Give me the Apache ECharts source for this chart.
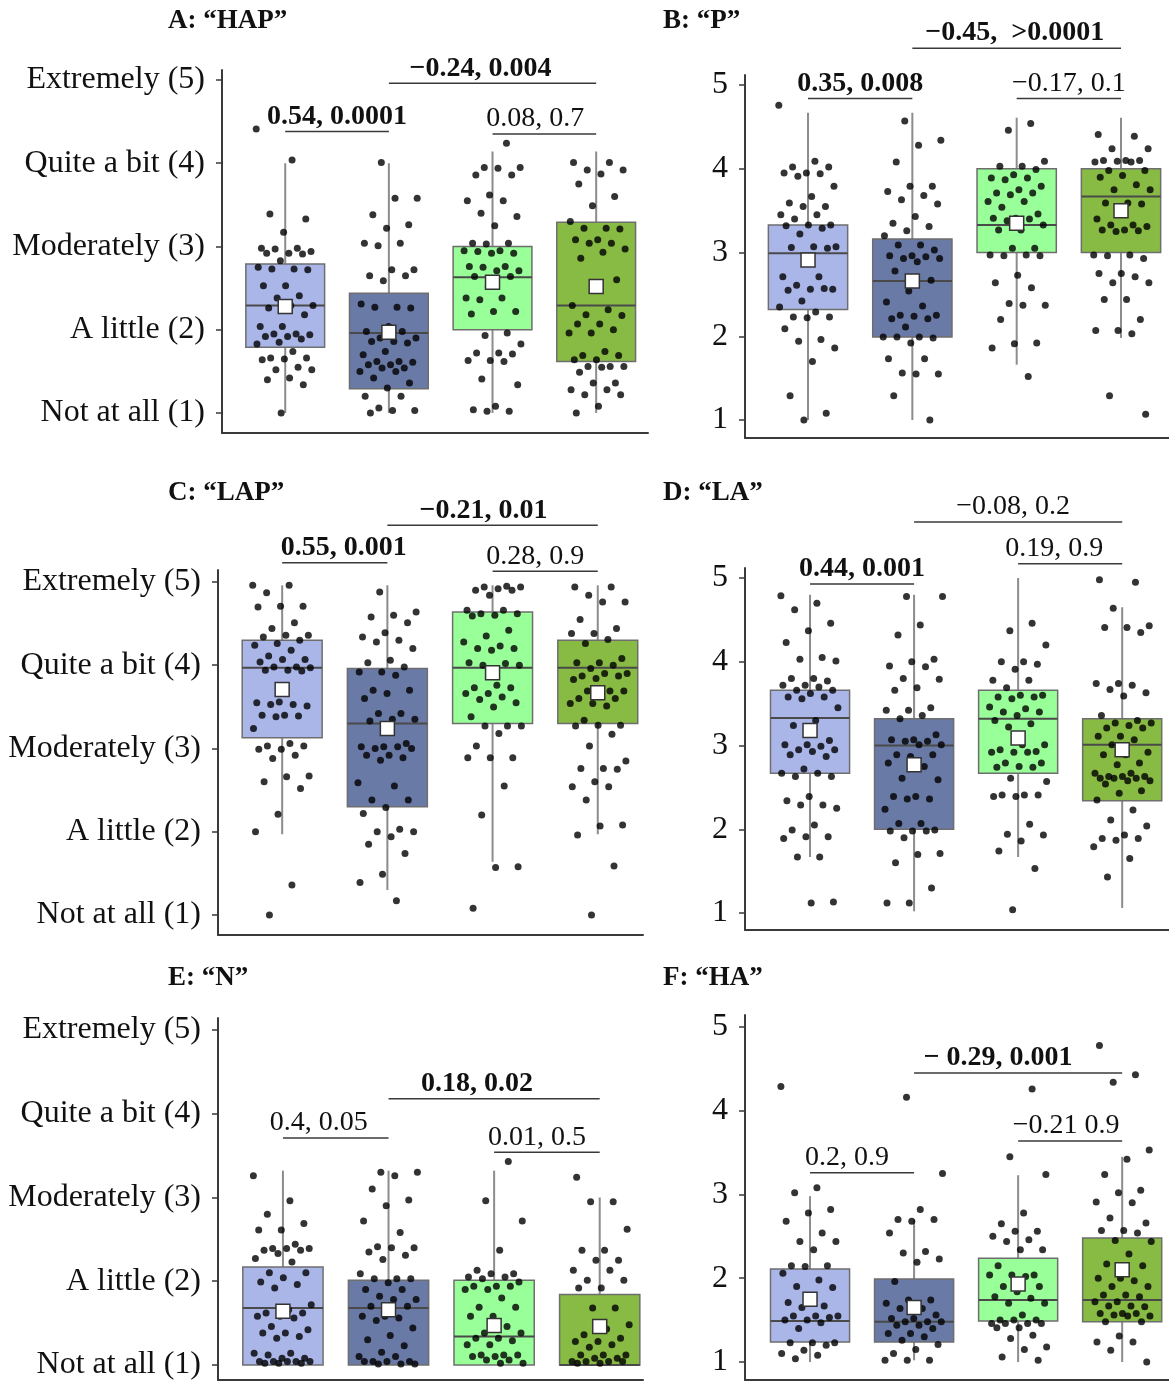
<!DOCTYPE html>
<html>
<head>
<meta charset="utf-8">
<script src="https://cdn.jsdelivr.net/npm/echarts@6/dist/echarts.min.js"></script>
<style>
  html, body { margin: 0; padding: 0; background: #ffffff; }
  #chart { width: 1169px; height: 1382px; }
</style>
</head>
<body>
<div id="chart"></div>
<script>
// ---------- Axis tick labels ----------
const levelLabels = ['Not at all (1)', 'A little (2)', 'Moderately (3)', 'Quite a bit (4)', 'Extremely (5)'];
const numericLabels = ['1', '2', '3', '4', '5'];

// ---------- Group colours (same order in every panel) ----------
const groupColors = ['#aab6e8', '#6a7aa6', '#99ff99', '#88bb44'];

// ---------- A: "HAP" ----------
// box stats per group: [lower whisker, Q1, median, Q3, upper whisker]
const hapStats = [[1.0, 1.79, 2.29, 2.79, 4.0], [1.0, 1.29, 1.96, 2.44, 4.0], [1.0, 2.0, 2.63, 3.0, 4.14], [1.0, 1.62, 2.29, 3.29, 4.14]];
const hapMeans = [2.28, 1.97, 2.57, 2.52];
const hapPoints1 = [4.41, 4.04, 3.39, 3.33, 3.17, 2.98, 2.98, 2.97, 2.94, 2.92, 2.92, 2.91, 2.83, 2.75, 2.73, 2.73, 2.72, 2.53, 2.53, 2.41, 2.38, 2.29, 2.29, 2.26, 2.18, 2.04, 2.04, 1.95, 1.95, 1.94, 1.92, 1.92, 1.89, 1.85, 1.83, 1.74, 1.66, 1.66, 1.65, 1.64, 1.55, 1.52, 1.52, 1.42, 1.40, 1.34, 1.0];
const hapPoints2 = [4.01, 3.58, 3.58, 3.38, 3.26, 3.22, 3.04, 3.04, 3.01, 2.72, 2.72, 2.65, 2.65, 2.59, 2.31, 2.27, 2.27, 2.26, 2.04, 1.98, 1.98, 1.90, 1.90, 1.86, 1.86, 1.84, 1.74, 1.70, 1.62, 1.62, 1.61, 1.58, 1.58, 1.54, 1.54, 1.50, 1.50, 1.42, 1.36, 1.30, 1.20, 1.20, 1.06, 1.03, 1.03, 1.0];
const hapPoints3 = [4.24, 3.95, 3.95, 3.94, 3.86, 3.86, 3.62, 3.55, 3.55, 3.40, 3.36, 3.25, 3.04, 3.04, 3.03, 2.95, 2.95, 2.94, 2.92, 2.92, 2.76, 2.76, 2.75, 2.71, 2.71, 2.64, 2.64, 2.52, 2.38, 2.38, 2.36, 2.22, 2.22, 2.19, 1.96, 1.93, 1.83, 1.72, 1.72, 1.71, 1.63, 1.63, 1.62, 1.41, 1.34, 1.08, 1.04, 1.02, 1.02];
const hapPoints4 = [4.01, 4.01, 3.92, 3.92, 3.87, 3.75, 3.60, 3.49, 3.30, 3.22, 3.22, 3.21, 3.08, 3.08, 3.04, 3.04, 2.97, 2.93, 2.86, 2.60, 2.51, 2.29, 2.24, 2.18, 2.17, 2.07, 2.07, 2.00, 1.96, 1.96, 1.74, 1.69, 1.69, 1.64, 1.64, 1.56, 1.56, 1.56, 1.55, 1.49, 1.36, 1.36, 1.28, 1.28, 1.22, 1.22, 1.08, 1.0];
// comparisons: [from group, to group, text, bold]
const hapTests = [[1, 2, '0.54, 0.0001', true], [2, 4, '\u22120.24, 0.004', true], [3, 4, '0.08, 0.7', false]];

// ---------- B: "P" ----------
const pStats = [[1.0, 2.32, 2.99, 3.33, 4.67], [1.0, 1.99, 2.66, 3.16, 4.67], [1.66, 3.0, 3.33, 4.0, 4.61], [1.98, 3.0, 3.67, 4.0, 4.61]];
const pMeans = [2.91, 2.66, 3.35, 3.50];
const pPoints1 = [4.76, 4.09, 4.02, 4.02, 3.95, 3.95, 3.94, 3.91, 3.79, 3.67, 3.59, 3.55, 3.55, 3.45, 3.45, 3.40, 3.33, 3.33, 3.32, 3.29, 3.22, 3.07, 3.07, 3.06, 3.05, 2.93, 2.71, 2.71, 2.61, 2.56, 2.56, 2.55, 2.57, 2.42, 2.35, 2.29, 2.23, 2.23, 2.22, 2.09, 1.96, 1.94, 1.86, 1.70, 1.29, 1.08, 1.0];
const pPoints2 = [4.57, 4.34, 4.28, 4.08, 3.79, 3.79, 3.73, 3.68, 3.63, 3.58, 3.43, 3.35, 3.31, 3.26, 3.20, 3.09, 3.09, 3.03, 2.96, 2.96, 2.95, 2.93, 2.93, 2.89, 2.78, 2.67, 2.54, 2.41, 2.36, 2.25, 2.25, 2.24, 2.21, 2.21, 2.11, 1.99, 1.99, 1.99, 1.98, 1.92, 1.73, 1.73, 1.56, 1.55, 1.55, 1.29, 1.0];
const pPoints3 = [4.54, 4.46, 4.09, 4.03, 4.03, 3.99, 3.93, 3.89, 3.89, 3.87, 3.79, 3.75, 3.71, 3.71, 3.69, 3.61, 3.61, 3.54, 3.46, 3.41, 3.41, 3.40, 3.38, 3.33, 3.27, 3.27, 3.05, 3.05, 2.97, 2.97, 2.96, 2.96, 2.73, 2.64, 2.58, 2.39, 2.37, 2.37, 2.20, 1.92, 1.91, 1.86, 1.52];
const pPoints4 = [4.41, 4.39, 4.24, 4.24, 4.10, 4.10, 4.10, 4.09, 4.08, 4.08, 3.98, 3.98, 3.92, 3.90, 3.81, 3.75, 3.75, 3.59, 3.59, 3.58, 3.47, 3.40, 3.33, 3.33, 3.31, 3.27, 3.27, 3.26, 3.25, 2.97, 2.97, 2.96, 2.93, 2.75, 2.75, 2.71, 2.64, 2.64, 2.44, 2.44, 2.20, 2.07, 2.07, 2.03, 1.29, 1.07];
const pTests = [[1, 2, '0.35, 0.008', true], [2, 4, '\u22120.45,  >0.0001', true], [3, 4, '\u22120.17, 0.1', false]];

// ---------- C: "LAP" ----------
const lapStats = [[1.97, 3.13, 3.97, 4.30, 4.96], [1.30, 2.30, 3.30, 3.96, 4.96], [1.64, 3.30, 3.97, 4.64, 4.96], [1.97, 3.30, 3.97, 4.30, 4.96]];
const lapMeans = [3.71, 3.24, 3.91, 3.67];
const lapPoints1 = [4.96, 4.96, 4.87, 4.71, 4.71, 4.70, 4.51, 4.44, 4.36, 4.36, 4.34, 4.30, 4.26, 4.24, 4.18, 4.11, 4.07, 4.07, 4.04, 3.98, 3.98, 3.97, 3.94, 3.94, 3.93, 3.56, 3.55, 3.53, 3.53, 3.51, 3.40, 3.40, 3.39, 3.38, 3.24, 3.06, 3.03, 3.03, 2.99, 2.99, 2.92, 2.88, 2.67, 2.66, 2.60, 2.52, 2.21, 2.0, 1.36, 1.0];
const lapPoints2 = [4.88, 4.64, 4.60, 4.58, 4.51, 4.39, 4.34, 4.30, 4.28, 4.20, 4.06, 4.03, 3.98, 3.92, 3.92, 3.88, 3.70, 3.70, 3.66, 3.60, 3.42, 3.42, 3.35, 3.35, 3.33, 3.06, 3.02, 3.02, 3.02, 3.00, 3.00, 2.92, 2.92, 2.89, 2.86, 2.59, 2.55, 2.38, 2.38, 2.29, 2.22, 2.03, 2.00, 2.00, 1.94, 1.85, 1.74, 1.49, 1.39, 1.17];
const lapPoints3 = [4.95, 4.94, 4.94, 4.92, 4.90, 4.90, 4.84, 4.66, 4.66, 4.62, 4.62, 4.60, 4.59, 4.42, 4.35, 4.28, 4.23, 4.20, 4.20, 4.18, 4.03, 4.02, 4.00, 4.00, 3.76, 3.73, 3.73, 3.66, 3.66, 3.62, 3.59, 3.55, 3.50, 3.38, 3.27, 3.27, 3.27, 3.18, 3.03, 2.89, 2.89, 2.89, 2.55, 2.20, 1.58, 1.57, 1.08];
const lapPoints4 = [4.94, 4.94, 4.84, 4.76, 4.76, 4.55, 4.44, 4.38, 4.38, 4.31, 4.26, 4.08, 4.03, 4.03, 4.00, 3.96, 3.90, 3.90, 3.87, 3.87, 3.84, 3.83, 3.69, 3.69, 3.69, 3.65, 3.60, 3.60, 3.54, 3.54, 3.51, 3.34, 3.28, 3.28, 3.27, 3.17, 3.03, 2.85, 2.76, 2.76, 2.75, 2.60, 2.54, 2.54, 2.38, 2.08, 2.07, 1.96, 1.59, 1.0];
const lapTests = [[1, 2, '0.55, 0.001', true], [2, 4, '\u22120.21, 0.01', true], [3, 4, '0.28, 0.9', false]];

// ---------- D: "LA" ----------
const laStats = [[1.67, 2.67, 3.33, 3.66, 4.80], [1.02, 2.0, 3.0, 3.32, 4.80], [1.67, 2.67, 3.32, 3.66, 5.0], [1.06, 2.34, 3.01, 3.32, 4.65]];
const laMeans = [3.18, 2.77, 3.09, 2.95];
const laPoints1 = [4.79, 4.70, 4.62, 4.46, 4.37, 4.23, 4.05, 4.03, 4.01, 3.80, 3.80, 3.77, 3.72, 3.72, 3.70, 3.66, 3.66, 3.62, 3.58, 3.58, 3.56, 3.45, 3.30, 3.24, 3.06, 3.01, 3.01, 2.99, 2.95, 2.95, 2.93, 2.89, 2.87, 2.72, 2.67, 2.67, 2.63, 2.63, 2.39, 2.34, 2.29, 2.29, 2.25, 2.05, 1.99, 1.91, 1.91, 1.89, 1.67, 1.67, 1.13, 1.12];
const laPoints2 = [4.78, 4.78, 4.44, 4.32, 4.03, 4.00, 3.95, 3.94, 3.80, 3.79, 3.69, 3.66, 3.45, 3.42, 3.42, 3.36, 3.32, 3.13, 3.07, 3.07, 3.05, 3.05, 3.01, 3.01, 2.89, 2.89, 2.87, 2.79, 2.75, 2.61, 2.59, 2.39, 2.39, 2.36, 2.36, 2.24, 2.07, 2.07, 1.99, 1.98, 1.98, 1.98, 1.90, 1.71, 1.70, 1.60, 1.30, 1.12, 1.12];
const laPoints3 = [4.46, 4.37, 4.20, 4.00, 4.00, 3.97, 3.91, 3.78, 3.78, 3.69, 3.60, 3.60, 3.58, 3.58, 3.56, 3.46, 3.44, 3.40, 3.40, 3.36, 3.30, 3.26, 3.22, 3.01, 3.01, 2.95, 2.93, 2.92, 2.92, 2.92, 2.79, 2.79, 2.75, 2.74, 2.74, 2.61, 2.57, 2.41, 2.41, 2.41, 2.39, 2.39, 2.06, 1.94, 1.93, 1.86, 1.74, 1.53, 1.04];
const laPoints4 = [4.98, 4.95, 4.64, 4.43, 4.41, 4.41, 4.35, 3.74, 3.74, 3.72, 3.67, 3.63, 3.59, 3.36, 3.30, 3.27, 3.27, 3.24, 3.21, 3.21, 3.11, 3.11, 3.07, 3.01, 2.92, 2.89, 2.89, 2.79, 2.77, 2.67, 2.67, 2.63, 2.63, 2.63, 2.61, 2.61, 2.61, 2.58, 2.58, 2.54, 2.46, 2.43, 2.35, 2.23, 2.11, 2.04, 1.93, 1.89, 1.89, 1.87, 1.79, 1.65, 1.43];
const laTests = [[1, 2, '0.44, 0.001', true], [2, 4, '\u22120.08, 0.2', false], [3, 4, '0.19, 0.9', false]];

// ---------- E: "N" ----------
const nStats = [[1.0, 1.0, 1.68, 2.17, 3.32], [1.0, 1.0, 1.68, 2.01, 3.32], [1.0, 1.0, 1.34, 2.01, 3.32], [1.0, 1.0, 1.0, 1.84, 3.0]];
const nMeans = [1.64, 1.66, 1.47, 1.46];
const nPoints1 = [3.26, 2.96, 2.80, 2.69, 2.61, 2.61, 2.44, 2.39, 2.39, 2.39, 2.37, 2.37, 2.33, 2.27, 2.23, 2.10, 2.10, 2.04, 1.99, 1.96, 1.92, 1.72, 1.66, 1.62, 1.62, 1.58, 1.58, 1.56, 1.46, 1.42, 1.38, 1.38, 1.34, 1.32, 1.14, 1.14, 1.12, 1.08, 1.08, 1.04, 1.04, 1.04, 1.04, 1.04, 1.02, 1.02, 1.02];
const nPoints2 = [3.30, 3.30, 3.26, 3.10, 2.97, 2.90, 2.72, 2.58, 2.41, 2.40, 2.40, 2.35, 2.31, 2.26, 2.09, 2.03, 2.03, 2.03, 1.98, 1.90, 1.90, 1.82, 1.78, 1.78, 1.70, 1.70, 1.58, 1.58, 1.56, 1.53, 1.44, 1.35, 1.30, 1.23, 1.15, 1.10, 1.10, 1.04, 1.04, 1.04, 1.04, 1.01, 1.01, 1.01];
const nPoints3 = [3.43, 2.96, 2.72, 2.37, 2.13, 2.09, 2.09, 2.05, 2.05, 2.03, 1.99, 1.94, 1.94, 1.94, 1.90, 1.90, 1.80, 1.69, 1.69, 1.58, 1.58, 1.46, 1.38, 1.38, 1.32, 1.32, 1.29, 1.24, 1.24, 1.12, 1.12, 1.12, 1.10, 1.10, 1.06, 1.06, 1.02, 1.02];
const nPoints4 = [3.24, 2.95, 2.95, 2.62, 2.37, 2.37, 2.25, 2.25, 2.13, 2.13, 2.01, 2.01, 1.92, 1.92, 1.68, 1.68, 1.48, 1.43, 1.36, 1.32, 1.28, 1.28, 1.24, 1.21, 1.12, 1.12, 1.12, 1.08, 1.08, 1.04, 1.04, 1.04, 1.04, 1.02, 1.02];
const nTests = [[1, 2, '0.4, 0.05', false], [2, 4, '0.18, 0.02', true], [3, 4, '0.01, 0.5', false]];

// ---------- F: "HA" ----------
const haStats = [[1.0, 1.24, 1.49, 2.11, 2.98], [1.02, 1.24, 1.48, 1.99, 2.70], [1.0, 1.49, 1.74, 2.24, 3.23], [1.0, 1.48, 1.74, 2.48, 3.45]];
const haMeans = [1.75, 1.65, 1.93, 2.10];
const haPoints1 = [4.29, 3.08, 3.02, 2.82, 2.78, 2.68, 2.54, 2.44, 2.44, 2.34, 2.15, 2.15, 2.14, 2.06, 1.98, 1.90, 1.89, 1.71, 1.71, 1.67, 1.65, 1.55, 1.55, 1.55, 1.53, 1.50, 1.50, 1.47, 1.40, 1.23, 1.23, 1.23, 1.20, 1.14, 1.10, 1.08, 1.04];
const haPoints2 = [4.16, 3.25, 2.82, 2.70, 2.70, 2.68, 2.54, 2.32, 2.30, 2.23, 2.19, 1.96, 1.74, 1.74, 1.70, 1.64, 1.64, 1.56, 1.52, 1.52, 1.48, 1.48, 1.48, 1.44, 1.44, 1.40, 1.34, 1.34, 1.30, 1.26, 1.21, 1.15, 1.10, 1.02, 1.02, 1.02];
const haPoints3 = [4.26, 3.45, 3.24, 2.78, 2.65, 2.56, 2.56, 2.50, 2.46, 2.44, 2.34, 2.34, 2.15, 2.04, 2.04, 2.04, 2.02, 1.90, 1.90, 1.84, 1.78, 1.76, 1.70, 1.70, 1.56, 1.50, 1.50, 1.50, 1.46, 1.46, 1.46, 1.46, 1.41, 1.41, 1.32, 1.28, 1.18, 1.15, 1.06, 1.02];
const haPoints4 = [4.78, 4.43, 4.34, 3.53, 3.42, 3.24, 3.05, 3.02, 2.91, 2.90, 2.72, 2.66, 2.57, 2.57, 2.54, 2.45, 2.44, 2.29, 2.17, 2.15, 2.00, 2.00, 1.97, 1.90, 1.90, 1.80, 1.80, 1.78, 1.72, 1.72, 1.67, 1.67, 1.66, 1.58, 1.58, 1.58, 1.56, 1.55, 1.55, 1.48, 1.48, 1.31, 1.24, 1.24, 1.14, 1.0];
const haTests = [[1, 2, '0.2, 0.9', false], [2, 4, '\u2212 0.29, 0.001', true], [3, 4, '\u22120.21 0.9', false]];

// ---------- Panel layout ----------
const SERIF = '"Liberation Serif", "Times New Roman", serif';
// bracket placement per comparison: [level on the y scale, text shift in px]
const panels = [
  { title: 'A: \u201cHAP\u201d', tLeft: 163, tTop: 3, grid: { left: 222, top: 70, width: 426, height: 363 }, y: [0.76, 5.12], x: [0.39, 4.5],
    labels: levelLabels, stats: hapStats, means: hapMeans, points: [hapPoints1, hapPoints2, hapPoints3, hapPoints4], tests: hapTests,
    brackets: [[4.38, 0], [4.96, -12], [4.35, -9]] },
  { title: 'B: \u201cP\u201d', tLeft: 658, tTop: 3, grid: { left: 745, top: 75, width: 424, height: 363 }, y: [0.785, 5.12], x: [0.396, 4.46],
    labels: numericLabels, stats: pStats, means: pMeans, points: [pPoints1, pPoints2, pPoints3, pPoints4], tests: pTests,
    brackets: [[4.84, 0], [5.44, -2], [4.84, 0]] },
  { title: 'C: \u201cLAP\u201d', tLeft: 163, tTop: 475, grid: { left: 218, top: 570, width: 425, height: 365 }, y: [0.76, 5.144], x: [0.39, 4.43],
    labels: levelLabels, stats: lapStats, means: lapMeans, points: [lapPoints1, lapPoints2, lapPoints3, lapPoints4], tests: lapTests,
    brackets: [[5.23, 9], [5.68, -9], [5.13, -10]] },
  { title: 'D: \u201cLA\u201d', tLeft: 658, tTop: 475, grid: { left: 745, top: 568, width: 424, height: 362 }, y: [0.797, 5.12], x: [0.375, 4.45],
    labels: numericLabels, stats: laStats, means: laMeans, points: [laPoints1, laPoints2, laPoints3, laPoints4], tests: laTests,
    brackets: [[4.93, 0], [5.67, -5], [5.17, -16]] },
  { title: 'E: \u201cN\u201d', tLeft: 163, tTop: 960, grid: { left: 218, top: 1018, width: 425, height: 362 }, y: [0.82, 5.143], x: [0.385, 4.41],
    labels: levelLabels, stats: nStats, means: nMeans, points: [nPoints1, nPoints2, nPoints3, nPoints4], tests: nTests,
    brackets: [[3.71, -17], [4.18, -17], [3.54, -10]] },
  { title: 'F: \u201cHA\u201d', tLeft: 658, tTop: 960, grid: { left: 745, top: 1015, width: 424, height: 365 }, y: [0.785, 5.143], x: [0.375, 4.45],
    labels: numericLabels, stats: haStats, means: haMeans, points: [haPoints1, haPoints2, haPoints3, haPoints4], tests: haTests,
    brackets: [[3.26, -15], [4.45, -20], [3.64, -4]] }
];

const BOX_WIDTH = 0.76;     // box width in group units
const JITTER_SPAN = 0.56;   // horizontal spread of the raw points

// spread points horizontally with a low-discrepancy sequence so they do not overlap
function jitter(i, g) {
  const f = (i * 0.6180339887 + g * 0.37) % 1;
  return (f - 0.5) * JITTER_SPAN;
}

const grids = [], xAxes = [], yAxes = [], series = [], titles = [];

panels.forEach((p, k) => {
  grids.push(Object.assign({ containLabel: false }, p.grid));
  titles.push({
    text: p.title, left: p.tLeft, top: p.tTop,
    textStyle: { fontFamily: SERIF, fontWeight: 'bold', fontSize: 27, color: '#111' }
  });
  xAxes.push({
    type: 'value', gridIndex: k, min: p.x[0], max: p.x[1],
    axisLine: { show: true, onZero: false, lineStyle: { color: '#3a3a3a', width: 2 } },
    axisTick: { show: false }, axisLabel: { show: false }, splitLine: { show: false }
  });
  const labels = p.labels;
  yAxes.push({
    type: 'value', gridIndex: k, min: p.y[0], max: p.y[1],
    axisLine: { show: true, onZero: false, lineStyle: { color: '#3a3a3a', width: 2 } },
    axisTick: { show: true, customValues: [1, 2, 3, 4, 5], length: 6, lineStyle: { color: '#3a3a3a', width: 1.5 } },
    axisLabel: {
      customValues: [1, 2, 3, 4, 5], margin: 17,
      fontFamily: SERIF, fontSize: 32, color: '#111',
      formatter: v => labels[Math.round(v) - 1]
    },
    splitLine: { show: false }
  });

  // boxes with whiskers and median line
  const colors = groupColors;
  series.push({
    type: 'custom', xAxisIndex: k, yAxisIndex: k, z: 2,
    data: p.stats.map((s, g) => [g + 1, s[0], s[1], s[2], s[3], s[4]]),
    encode: { x: 0, y: [1, 2, 3, 4, 5] },
    renderItem: (params, api) => {
      const x = api.value(0);
      const lo = api.coord([x, api.value(1)]);
      const q1 = api.coord([x, api.value(2)]);
      const md = api.coord([x, api.value(3)]);
      const q3 = api.coord([x, api.value(4)]);
      const hi = api.coord([x, api.value(5)]);
      const w = api.size([BOX_WIDTH, 0])[0];
      return {
        type: 'group',
        children: [
          { type: 'line', shape: { x1: lo[0], y1: lo[1], x2: hi[0], y2: hi[1] }, style: { stroke: '#8c8c8c', lineWidth: 2 } },
          { type: 'rect', shape: { x: q3[0] - w / 2, y: q3[1], width: w, height: Math.max(q1[1] - q3[1], 0.5) },
            style: { fill: colors[params.dataIndex], stroke: '#6e6e6e', lineWidth: 1.5 } },
          { type: 'line', shape: { x1: md[0] - w / 2, y1: md[1], x2: md[0] + w / 2, y2: md[1] }, style: { stroke: '#4a4a4a', lineWidth: 2 } }
        ]
      };
    }
  });

  // raw responses
  const pts = [];
  p.points.forEach((arr, g) => arr.forEach((v, i) => pts.push([g + 1 + jitter(i, g), v])));
  series.push({
    type: 'scatter', xAxisIndex: k, yAxisIndex: k, z: 3,
    data: pts, symbol: 'circle', symbolSize: 7,
    itemStyle: { color: '#000000' }, silent: true
  });

  // group means
  series.push({
    type: 'scatter', xAxisIndex: k, yAxisIndex: k, z: 4,
    data: p.means.map((m, g) => [g + 1, m]),
    symbol: 'rect', symbolSize: 14,
    itemStyle: { color: '#ffffff', borderColor: '#333333', borderWidth: 1.5, opacity: 1 }, silent: true
  });

  // pairwise comparison brackets: effect size, p value
  const tests = p.tests;
  const brackets = p.brackets;
  series.push({
    type: 'custom', xAxisIndex: k, yAxisIndex: k, z: 5, clip: false,
    data: tests.map((t, j) => [t[0], t[1], brackets[j][0]]),
    encode: { x: [0, 1], y: 2 },
    renderItem: (params, api) => {
      const t = tests[params.dataIndex];
      const shift = brackets[params.dataIndex][1];
      const a = api.coord([api.value(0), api.value(2)]);
      const b = api.coord([api.value(1), api.value(2)]);
      return {
        type: 'group',
        children: [
          { type: 'line', shape: { x1: a[0], y1: a[1], x2: b[0], y2: b[1] }, style: { stroke: '#3a3a3a', lineWidth: 1.5 } },
          { type: 'text', x: (a[0] + b[0]) / 2 + shift, y: a[1] - 1,
            style: { text: t[2], fill: '#111', align: 'center', verticalAlign: 'bottom',
                     font: (t[3] ? 'bold ' : '') + '28px ' + SERIF } }
        ]
      };
    }
  });
});

const chart = echarts.init(document.getElementById('chart'), null, { renderer: 'canvas' });
chart.setOption({
  animation: false,
  backgroundColor: '#ffffff',
  title: titles,
  grid: grids,
  xAxis: xAxes,
  yAxis: yAxes,
  series: series
});
</script>
</body>
</html>
